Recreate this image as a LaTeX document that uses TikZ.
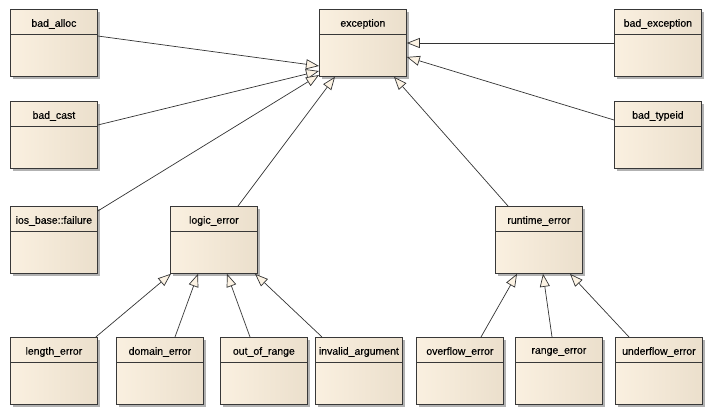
\documentclass[tikz,border=0pt]{standalone}
\usepackage{fontspec}
\setmainfont{Liberation Sans}
\newfontfamily\clsfont{Liberation Sans}[FakeBold=0.3]
\usetikzlibrary{arrows.meta,shadows,calc}
\definecolor{bord}{HTML}{383838}
\definecolor{lin}{HTML}{333333}
\definecolor{boxL}{HTML}{FAF0E0}
\definecolor{boxR}{HTML}{EBDFCC}
\definecolor{tipF}{HTML}{FCF3E4}
\begin{document}
\begin{tikzpicture}[x=1pt,y=-1pt,
  cls/.style={draw=bord,line width=0.8pt,minimum width=87pt,minimum height=67pt,
    inner sep=0pt,anchor=north west,left color=boxL,right color=boxR,
    drop shadow={shadow xshift=3pt,shadow yshift=-3pt,fill=black!30,opacity=1},
    path picture={\draw[bord,line width=0.8pt]
      ([yshift=-25pt]path picture bounding box.north west) --
      ([yshift=-25pt]path picture bounding box.north east);},
    label={[font=\clsfont\fontsize{10.5}{12}\selectfont,anchor=center,yshift=-15pt,text=black]north:{#1}}},
  inh/.style={draw=lin,line width=0.7pt,-{Triangle[length=13pt,width=10pt,fill=tipF]}}]
\useasboundingbox (0,0) rectangle (710,413);

\node[cls={bad\_alloc}] (alloc) at (10,9) {};
\node[cls={exception}] (exc) at (319,9) {};
\node[cls={bad\_exception}] (badexc) at (614,9) {};
\node[cls={bad\_cast}] (cast) at (10,101) {};
\node[cls={bad\_typeid}] (typeid) at (614,101) {};
\node[cls={ios\_base::failure}] (ios) at (10,206) {};
\node[cls={logic\_error}] (logic) at (170,206) {};
\node[cls={runtime\_error}] (runtime) at (495,206) {};
\node[cls={length\_error}] (length) at (10,337) {};
\node[cls={domain\_error}] (domain) at (116,337) {};
\node[cls={out\_of\_range}] (oor) at (220,337) {};
\node[cls={invalid\_argument}] (invalid) at (315,337) {};
\node[cls={overflow\_error}] (overflow) at (416,337) {};
\node[cls={range\_error}] (rangeerr) at (515,337) {};
\node[cls={underflow\_error}] (underflow) at (615,337) {};

\draw[inh] ($(alloc.north east)+(0,27)$) -- ($(exc.north west)+(0,57)$);
\draw[inh] ($(cast.north east)+(0,24)$) -- ($(exc.north west)+(0,62)$);
\draw[inh] ($(ios.north east)+(0,5)$) -- ($(exc.north west)+(0,66)$);
\draw[inh] ($(logic.north west)+(68,0)$) -- ($(exc.south west)+(16,0)$);
\draw[inh] ($(runtime.north west)+(13,0)$) -- ($(exc.south west)+(75,0)$);
\draw[inh] ($(badexc.north west)+(0,34)$) -- ($(exc.north east)+(0,34)$);
\draw[inh] ($(typeid.north west)+(0,19)$) -- ($(exc.north east)+(0,48)$);

\draw[inh] ($(length.north east)+(-2,0)$) -- ($(logic.south west)+(1,0)$);
\draw[inh] ($(domain.north west)+(59,0)$) -- ($(logic.south west)+(28,0)$);
\draw[inh] ($(oor.north west)+(30,0)$) -- ($(logic.south west)+(57,0)$);
\draw[inh] ($(invalid.north west)+(7,0)$) -- ($(logic.south west)+(85,0)$);

\draw[inh] ($(overflow.north west)+(65,0)$) -- ($(runtime.south west)+(22,0)$);
\draw[inh] ($(rangeerr.north west)+(37,0)$) -- ($(runtime.south west)+(48,0)$);
\draw[inh] ($(underflow.north west)+(14,0)$) -- ($(runtime.south west)+(75,0)$);
\end{tikzpicture}
\end{document}
